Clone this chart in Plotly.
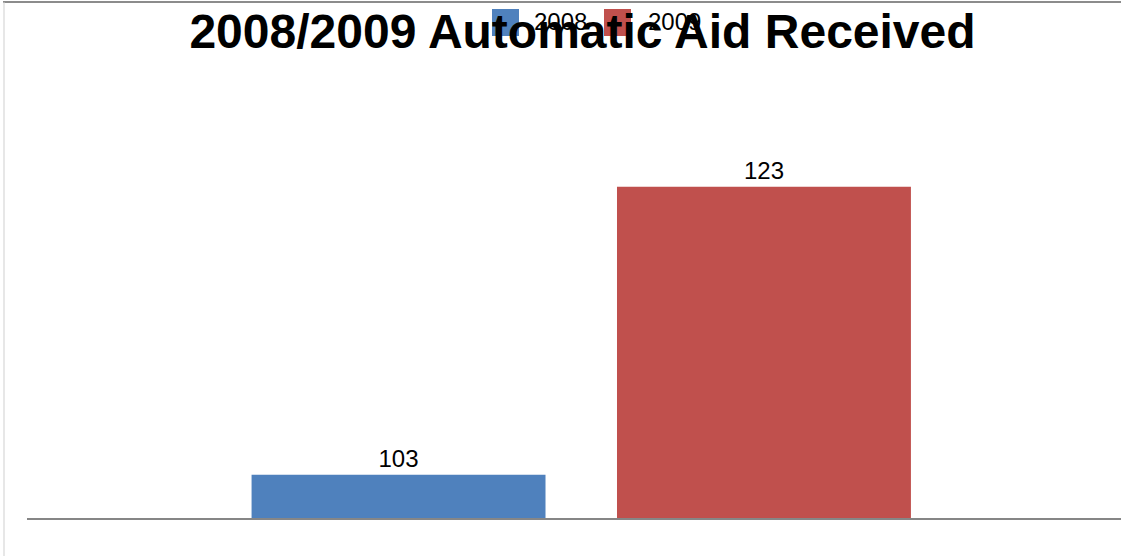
import plotly.graph_objects as go

# ---- data ----
categories = ["Automatic Aid Received"]
series_names = ["2008", "2009"]
series_values = [[103], [123]]
series_colors = ["#4F81BD", "#C0504D"]
title_text = "2008/2009 Automatic Aid Received"

W, H = 1121, 556
ML, MR, MT, MB = 27, 0, 158, 38
PW, PH = W - ML - MR, H - MT - MB

def px2x(px):
    return (px - ML) / PW

def py2y(py):
    return (H - MB - py) / PH

fig = go.Figure()
for name, vals, col in zip(series_names, series_values, series_colors):
    fig.add_trace(go.Bar(
        x=categories, y=vals, name=name,
        marker=dict(color=col, line=dict(width=0)),
        texttemplate="%{y}", textposition="outside",
        textfont=dict(family="Liberation Sans", size=24, color="#000000"),
        cliponaxis=False, showlegend=False,
    ))

# manual legend (large squares like the original)
shapes = []
annotations = []
leg_sq_left = [492, 604]
leg_txt_left = [532, 646]
for name, col, sx, tx in zip(series_names, series_colors, leg_sq_left, leg_txt_left):
    shapes.append(dict(type="rect", xref="paper", yref="paper",
                       x0=px2x(sx), x1=px2x(sx + 27), y0=py2y(36), y1=py2y(9),
                       fillcolor=col, line=dict(width=0), layer="below"))
    annotations.append(dict(text=name, xref="paper", yref="paper",
                            x=px2x(tx), y=py2y(21), xanchor="left", yanchor="middle",
                            showarrow=False,
                            font=dict(family="Liberation Sans", size=24, color="#000000")))

# border artifacts of the original picture
shapes.append(dict(type="line", xref="paper", yref="paper",
                   x0=px2x(3), x1=px2x(W), y0=py2y(2), y1=py2y(2),
                   line=dict(color="#8C8C8C", width=2)))
shapes.append(dict(type="line", xref="paper", yref="paper",
                   x0=px2x(4), x1=px2x(4), y0=py2y(2), y1=py2y(H),
                   line=dict(color="#CFCFCF", width=1)))

fig.update_layout(
    width=W, height=H,
    margin=dict(l=ML, r=MR, t=MT, b=MB, pad=0),
    paper_bgcolor="white", plot_bgcolor="white",
    barmode="group", bargap=0.341, bargroupgap=0.1956,
    title=dict(text="<b>" + title_text + "</b>", x=582.5 / W, xanchor="center",
               xref="container", y=1 - 31 / H, yanchor="middle", yref="container",
               font=dict(family="Liberation Sans", size=48, color="#000000")),
    xaxis=dict(range=[-(581.25 - ML) / 1109, (W - 581.25) / 1109],
               showticklabels=False, ticks="", showgrid=False, zeroline=False,
               showline=True, linecolor="#868686", linewidth=2, fixedrange=True),
    yaxis=dict(range=[100, 125], visible=False, showgrid=False, zeroline=False,
               fixedrange=True),
    shapes=shapes, annotations=annotations,
    showlegend=False,
)

fig.write_html("out.html",
               config={"displayModeBar": False},
               post_script="document.body.style.margin='0px';document.body.style.overflow='hidden';")
